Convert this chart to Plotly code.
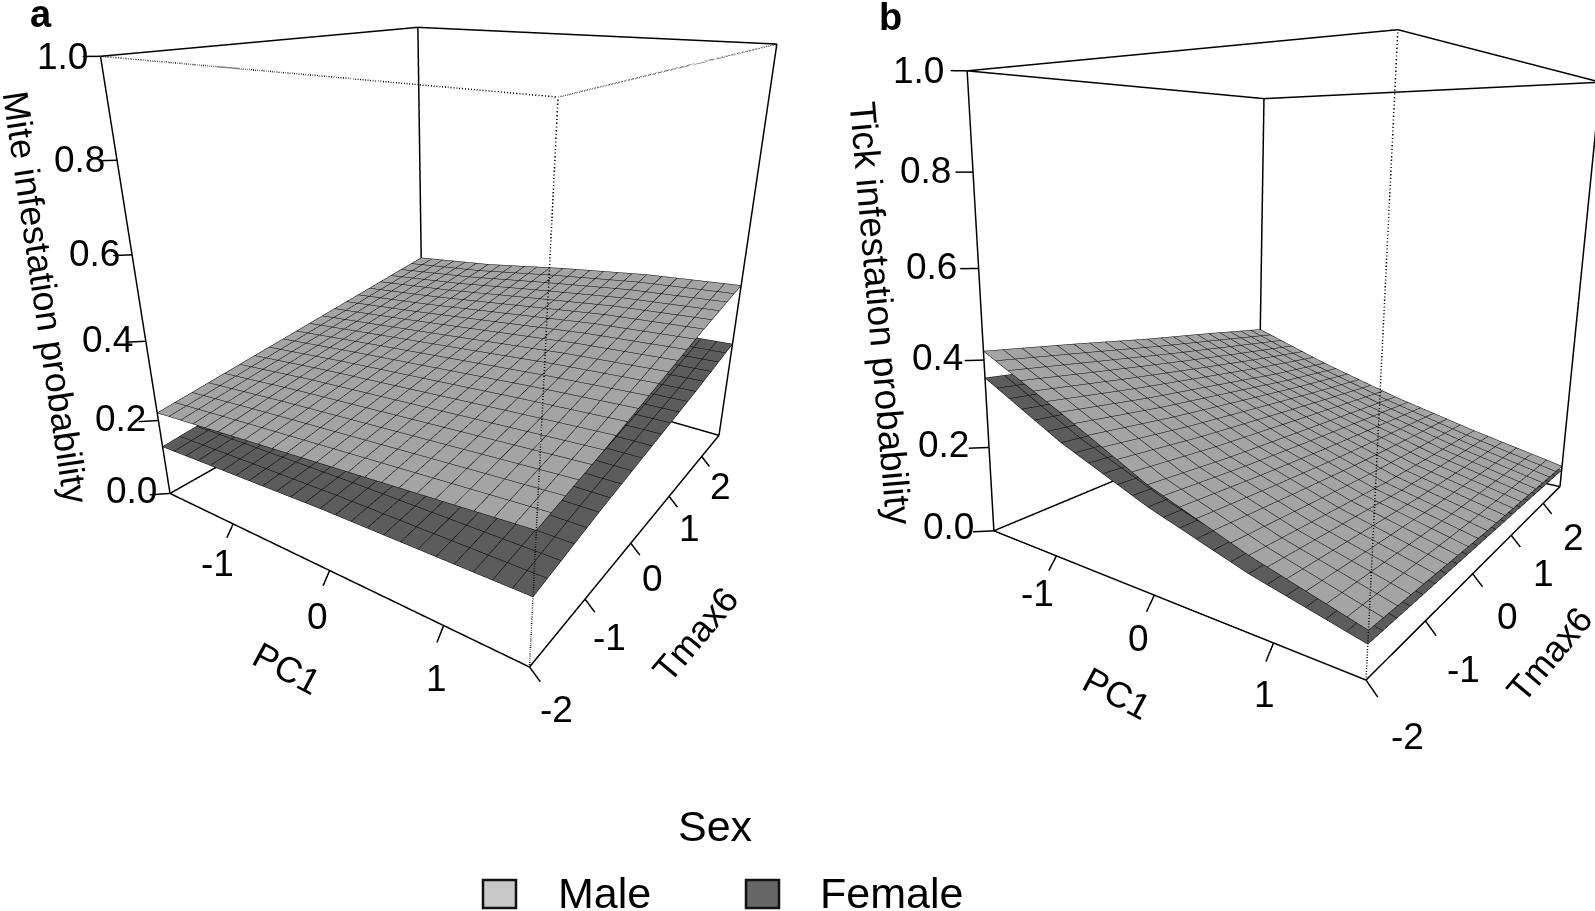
import plotly.graph_objects as go

pc1_range = [-1.75, 1.65]
tmax_range = [-2.0, 2.6]
pc1_ticks = [-1, 0, 1]
tmax_ticks = [-2, -1, 0, 1, 2]
prob_ticks = [0.0, 0.2, 0.4, 0.6, 0.8, 1.0]

pc1_grid = [-1.75, -0.9, -0.05, 0.8, 1.65]
tmax_grid = [-2.0, -0.85, 0.3, 1.45, 2.6]

# rows follow Tmax6, columns follow PC1
mite_male = [
    [0.22, 0.24, 0.26, 0.28, 0.30],
    [0.245, 0.27, 0.29, 0.31, 0.33],
    [0.27, 0.295, 0.32, 0.345, 0.365],
    [0.295, 0.32, 0.35, 0.38, 0.40],
    [0.32, 0.345, 0.38, 0.41, 0.43],
]
mite_female = [
    [0.13, 0.14, 0.15, 0.155, 0.16],
    [0.15, 0.16, 0.17, 0.18, 0.19],
    [0.165, 0.18, 0.19, 0.205, 0.215],
    [0.18, 0.195, 0.21, 0.225, 0.24],
    [0.20, 0.215, 0.235, 0.255, 0.27],
]
tick_male = [
    [0.42, 0.325, 0.225, 0.15, 0.09],
    [0.39, 0.295, 0.205, 0.135, 0.08],
    [0.358, 0.27, 0.19, 0.12, 0.07],
    [0.33, 0.245, 0.175, 0.112, 0.063],
    [0.30, 0.225, 0.16, 0.105, 0.056],
]
tick_female = [
    [0.36, 0.26, 0.18, 0.115, 0.065],
    [0.335, 0.24, 0.165, 0.105, 0.06],
    [0.305, 0.22, 0.15, 0.095, 0.055],
    [0.28, 0.195, 0.135, 0.085, 0.05],
    [0.25, 0.175, 0.12, 0.075, 0.045],
]

FONT = 'Liberation Sans'
W, H = 1595, 911
CELLS_X, CELLS_Y = 24, 20
# room round the box so the tick labels stay inside the scene (labels outside the range get dropped)
PAD_X, PAD_Y, PAD_Z = 1.0, 1.0, 0.1


def surface(z, color, scene):
    dx = (pc1_range[1] - pc1_range[0]) / CELLS_X
    dy = (tmax_range[1] - tmax_range[0]) / CELLS_Y
    return go.Surface(x=pc1_grid, y=tmax_grid, z=z, scene=scene,
                      colorscale=[[0, color], [1, color]], showscale=False, hoverinfo='skip',
                      lighting=dict(ambient=1, diffuse=0, specular=0, fresnel=0, roughness=1),
                      contours=dict(
                          x=dict(show=True, start=pc1_range[0], end=pc1_range[1] + dx / 2, size=dx, color='black', width=3),
                          y=dict(show=True, start=tmax_range[0], end=tmax_range[1] + dy / 2, size=dy, color='black', width=3),
                          z=dict(show=False)))


def line3d(a, b, scene, dash='solid'):
    return go.Scatter3d(x=[a[0], b[0]], y=[a[1], b[1]], z=[a[2], b[2]], mode='lines', scene=scene,
                        hoverinfo='skip', showlegend=False, line=dict(color='black', width=3, dash=dash))


def add_panel(fig, scene, male, female, eye, center, up, aspect, domain_x, dotted_top, tmax_dx, prob_off, taper):
    x0, x1 = pc1_range
    y0, y1 = tmax_range
    L, F, R, B = (x0, y0), (x1, y0), (x1, y1), (x0, y1)
    solid = [((*p, 0), (*q, 0)) for p, q in [(L, F), (F, R), (R, B), (B, L)]]
    solid += [((*p, 0), (*p, 1)) for p in [L, R, B]]
    dotted = [((*F, 0), (*F, 1))]
    top = [((*L, 1), (*B, 1)), ((*B, 1), (*R, 1))]
    front = [((*L, 1), (*F, 1)), ((*F, 1), (*R, 1))]
    if dotted_top:
        solid += top
        dotted += front
    else:
        solid += top + front

    ticks = [((v, y0, 0), (v, y0 - 0.1, -0.025)) for v in pc1_ticks]
    ticks += [((x1, v, 0), (x1 + 0.08, v, -0.022)) for v in tmax_ticks]
    # the near top of the box is magnified, so these get shorter going up
    ticks += [((x0, y0, v), (x0 - 0.12 * (1 - 0.3 * v), y0 - 0.14 * (1 - 0.3 * v), v)) for v in prob_ticks]

    fig.add_trace(surface(male, '#a4a4a4', scene))
    fig.add_trace(surface(female, '#5c5c5c', scene))
    for a, b in solid + ticks:
        fig.add_trace(line3d(a, b, scene))
    for a, b in dotted:
        fig.add_trace(line3d(a, b, scene, 'dot'))

    notes = []
    note = dict(showarrow=False, font=dict(family=FONT, size=37, color='black'), xanchor='center', yanchor='middle')
    for v in pc1_ticks:
        notes.append(dict(x=v + 0.17, y=y0 - 0.42, z=-0.03, text=str(v), **note))
    for v in tmax_ticks:
        notes.append(dict(x=x1 + tmax_dx, y=v, z=-0.07, text=str(v), **note))
    for v in prob_ticks:
        k = 1 - taper * v
        notes.append(dict(x=x0 - prob_off[0] * k, y=y0 - prob_off[1] * k, z=v + 0.015 * (1 - v),
                          text=f'{v:.1f}', **note))

    fig.update_layout({scene: dict(
        domain=dict(x=domain_x, y=[1 - 715 / H, 1]),
        xaxis=dict(visible=False, range=[x0 - PAD_X, x1 + PAD_X]),
        yaxis=dict(visible=False, range=[y0 - PAD_Y, y1 + PAD_Y]),
        zaxis=dict(visible=False, range=[-PAD_Z, 1 + PAD_Z]),
        aspectmode='manual',
        aspectratio=dict(x=aspect[0] * (x1 - x0 + 2 * PAD_X) / (x1 - x0),
                         y=aspect[1] * (y1 - y0 + 2 * PAD_Y) / (y1 - y0),
                         z=1 + 2 * PAD_Z),
        camera=dict(eye=dict(zip('xyz', eye)), center=dict(zip('xyz', center)), up=dict(zip('xyz', up)),
                    projection=dict(type='perspective')),
        annotations=notes,
    )})


fig = go.Figure()
add_panel(fig, 'scene', mite_male, mite_female, (1.057, -1.58, 0.661), (0.024, -0.082, -0.167), (0.002, -0.004, 1),
          (0.996, 1.03), [0, 900 / W], True, 0.2, (0.22, 0.26), 0.2)
add_panel(fig, 'scene2', tick_male, tick_female, (1.025, -1.691, 0.33), (-0.159, -0.171, -0.117), (0.016, 0.01, 1),
          (0.939, 1.075), [805 / W, 1], False, 0.28, (0.255, 0.3), 0.05)

labels = [
    ('a', 41, 14, 38, 0, True), ('b', 890, 17, 38, 0, True),
    ('Mite infestation probability', 46, 297, 36, 81.5, False),
    ('Tick infestation probability', 881, 313, 37, 85, False),
    ('PC1', 287, 668, 36, 28, False), ('Tmax6', 695, 634, 36, -50, False),
    ('PC1', 1117, 693, 36, 28, False), ('Tmax6', 1549, 654, 36, -50, False),
    ('Sex', 715, 826, 43, 0, False), ('Male', 604, 893, 43, 0, False), ('Female', 891, 893, 43, 0, False),
]
fig.update_layout(annotations=[
    dict(text=f'<b>{t}</b>' if b else t, x=x / W, y=1 - y / H, xref='paper', yref='paper', showarrow=False,
         xanchor='center', yanchor='middle', textangle=a, font=dict(family=FONT, size=s, color='black'))
    for t, x, y, s, a, b in labels
])
fig.update_layout(shapes=[
    dict(type='rect', xref='paper', yref='paper', x0=x0 / W, x1=(x0 + 33) / W, y0=1 - 908 / H, y1=1 - 880 / H,
         fillcolor=c, line=dict(color='#111111', width=2.5))
    for x0, c in [(483, '#c8c8c8'), (746, '#666666')]
])
fig.update_layout(width=W, height=H, margin=dict(l=0, r=0, t=0, b=0), paper_bgcolor='white', showlegend=False)
fig.write_html("out.html", config=dict(displayModeBar=False), post_script="document.body.style.margin='0'")
